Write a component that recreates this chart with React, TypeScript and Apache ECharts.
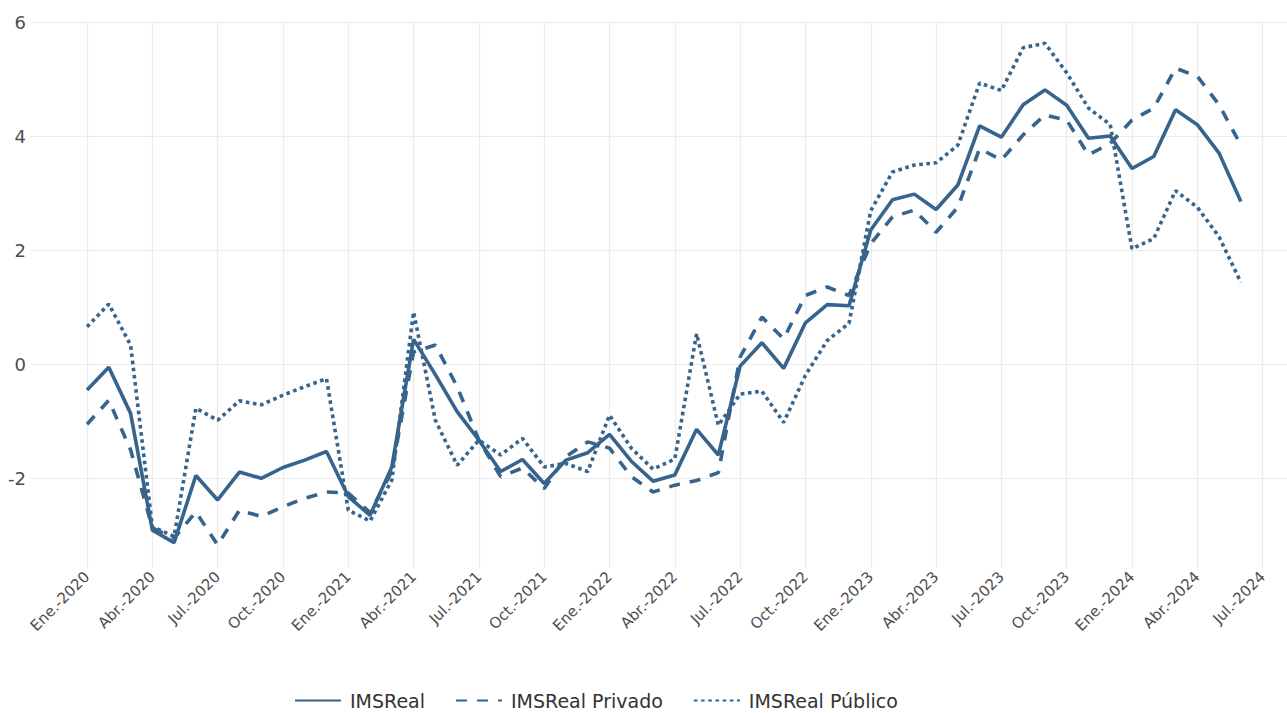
import React, { useEffect, useRef } from "react";
import * as echarts from "echarts";

const quarterLabels = [
  "Ene.-2020", "Abr.-2020", "Jul.-2020", "Oct.-2020",
  "Ene.-2021", "Abr.-2021", "Jul.-2021", "Oct.-2021",
  "Ene.-2022", "Abr.-2022", "Jul.-2022", "Oct.-2022",
  "Ene.-2023", "Abr.-2023", "Jul.-2023", "Oct.-2023",
  "Ene.-2024", "Abr.-2024", "Jul.-2024",
];
const quarterPositions = quarterLabels.map((_, i) => i * 3);
const yTicks = [-2, 0, 2, 4, 6];

const imsReal = [
  -0.45, -0.05, -0.86, -2.91, -3.13, -1.95, -2.38, -1.89, -2.0, -1.81, -1.68, -1.53,
  -2.32, -2.65, -1.8, 0.44, -0.18, -0.83, -1.33, -1.88, -1.67, -2.09, -1.68, -1.55,
  -1.23, -1.7, -2.05, -1.94, -1.14, -1.59, -0.03, 0.38, -0.07, 0.73, 1.05, 1.03,
  2.36, 2.89, 2.99, 2.72, 3.15, 4.19, 3.99, 4.56, 4.82, 4.55, 3.97, 4.01,
  3.44, 3.65, 4.47, 4.21, 3.71, 2.86,
];
const imsPrivado = [
  -1.05, -0.63, -1.5, -2.87, -3.05, -2.59, -3.17, -2.56, -2.67, -2.5, -2.35, -2.24,
  -2.26, -2.6, -1.88, 0.22, 0.34, -0.39, -1.33, -1.97, -1.82, -2.18, -1.62, -1.36,
  -1.47, -1.97, -2.24, -2.12, -2.04, -1.9, 0.13, 0.83, 0.45, 1.21, 1.36, 1.21,
  2.12, 2.59, 2.71, 2.32, 2.76, 3.79, 3.59, 4.03, 4.38, 4.29, 3.68, 3.88,
  4.29, 4.5, 5.2, 5.06, 4.56, 3.85,
];
const imsPublico = [
  0.66, 1.06, 0.34, -2.85, -3.02, -0.77, -0.98, -0.64, -0.71, -0.54, -0.39, -0.25,
  -2.56, -2.75, -2.03, 0.92, -0.98, -1.77, -1.33, -1.59, -1.3, -1.8, -1.74, -1.88,
  -0.89, -1.47, -1.84, -1.66, 0.54, -1.07, -0.52, -0.47, -1.02, -0.19, 0.42, 0.72,
  2.7, 3.38, 3.5, 3.54, 3.85, 4.94, 4.81, 5.56, 5.64, 5.12, 4.5, 4.21,
  2.03, 2.21, 3.05, 2.76, 2.24, 1.44,
];

const COLOR = "#36648C";
const FONT = "'DejaVu Sans', Verdana, sans-serif";
const LW = 3.6;

const toPoints = (arr: number[]) => arr.map((v, i) => [i, v]);

export default function App() {
  const ref = useRef<HTMLDivElement>(null);
  useEffect(() => {
    if (!ref.current) return;
    const chart = echarts.init(ref.current, null, { renderer: "svg" });
    const lineBase = { type: "line", symbol: "none", showSymbol: false, smooth: false };
    chart.setOption({
      animation: false,
      backgroundColor: "#ffffff",
      grid: {
        left: 30, right: 0, top: 22.7, bottom: 144.7,
        containLabel: false, outerBoundsMode: "none",
      },
      legend: {
        left: 289, top: 686, itemWidth: 46, itemHeight: 14, itemGap: 30,
        itemStyle: { opacity: 0 },
        textStyle: { fontFamily: FONT, fontSize: 19, color: "#333", padding: [0, 0, 0, 4] },
        data: ["IMSReal", "IMSReal Privado", "IMSReal Público"],
      },
      xAxis: {
        type: "value", min: -2.62, max: 55.12,
        axisLine: { show: false },
        axisTick: { show: false, customValues: quarterPositions },
        axisLabel: {
          customValues: quarterPositions, rotate: 45, margin: 6,
          fontFamily: FONT, fontSize: 15, color: "#4d4d4d",
          formatter: (v: number) => quarterLabels[Math.round(v / 3)] ?? "",
        },
        splitLine: { show: true, lineStyle: { color: "#EBEBEB", width: 1.2 } },
      },
      yAxis: {
        type: "value", min: -3.58, max: 6,
        axisLine: { show: false },
        axisTick: { show: false, customValues: yTicks },
        axisLabel: {
          customValues: yTicks, margin: 4,
          fontFamily: FONT, fontSize: 18, color: "#4d4d4d",
        },
        splitLine: { show: true, lineStyle: { color: "#EBEBEB", width: 1.2 } },
      },
      series: [
        { ...lineBase, name: "IMSReal", data: toPoints(imsReal),
          lineStyle: { color: COLOR, width: LW, type: "solid" }, itemStyle: { color: COLOR } },
        { ...lineBase, name: "IMSReal Privado", data: toPoints(imsPrivado),
          lineStyle: { color: COLOR, width: LW, type: [11, 10] }, itemStyle: { color: COLOR } },
        { ...lineBase, name: "IMSReal Público", data: toPoints(imsPublico),
          lineStyle: { color: COLOR, width: LW, type: [3.6, 3.6] }, itemStyle: { color: COLOR } },
      ],
    });
    return () => chart.dispose();
  }, []);
  return (
    <div
      ref={ref}
      style={{ position: "absolute", left: 0, top: 0, width: 1287, height: 713 }}
    />
  );
}
